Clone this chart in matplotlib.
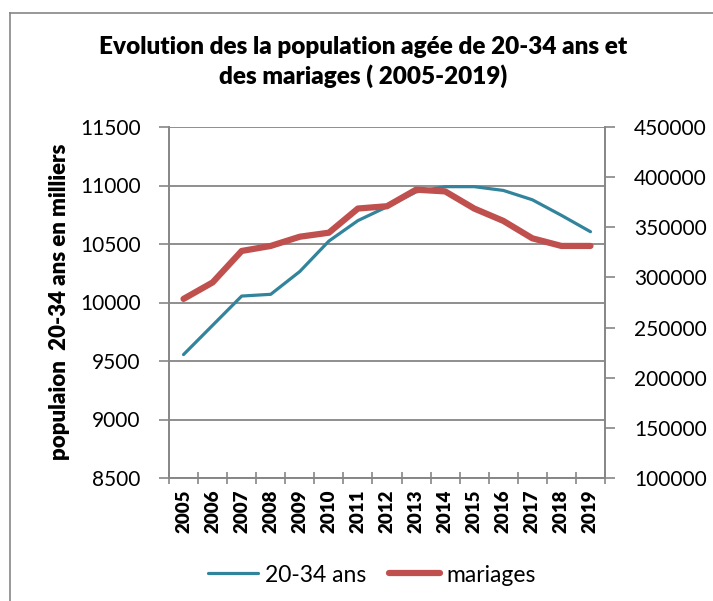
import matplotlib.pyplot as plt
from matplotlib.lines import Line2D

# Données
annees = ["2005", "2006", "2007", "2008", "2009", "2010", "2011", "2012",
          "2013", "2014", "2015", "2016", "2017", "2018", "2019"]
pop_20_34 = [9555, 9805, 10055, 10070, 10265, 10525, 10700, 10818,
             10945, 10990, 10990, 10958, 10878, 10745, 10605]
mariages = [278600, 295000, 326400, 331400, 340600, 344600, 368700, 371000,
            387500, 385800, 368700, 356400, 339000, 331400, 331400]

BLEU = "#31849B"
ROUGE = "#C0504D"
GRIS = "#868686"


def main():
    plt.rcParams["font.family"] = ["Lato", "DejaVu Sans"]
    fig = plt.figure(figsize=(7.13, 6.01), dpi=100)

    # cadre du graphique (coupé à droite et en bas)
    fig.add_artist(Line2D([10 / 713, 10 / 713], [-0.1, 1 - 13 / 601],
                          color=GRIS, lw=1.2))
    fig.add_artist(Line2D([10 / 713, 1.1], [1 - 13 / 601, 1 - 13 / 601],
                          color=GRIS, lw=1.2))

    ax = fig.add_axes([169 / 713, 1 - 478 / 601, 436 / 713, 351 / 601])
    ax2 = ax.twinx()

    x = list(range(len(annees)))
    l1, = ax.plot(x, pop_20_34, color=BLEU, lw=2.3, solid_capstyle="round",
                  label="20-34 ans")
    l2, = ax2.plot(x, mariages, color=ROUGE, lw=4.5, solid_capstyle="round",
                   label="mariages")

    ax.set_xlim(-0.5, len(annees) - 0.5)
    ax.set_ylim(8500, 11500)
    ax.set_yticks(range(8500, 11501, 500))
    ax2.set_ylim(100000, 450000)
    ax2.set_yticks(range(100000, 450001, 50000))

    ax.grid(axis="y", color=GRIS, lw=1.3)
    ax.set_axisbelow(True)

    # ticks x entre les catégories
    ax.set_xticks([i + 0.5 for i in range(-1, len(annees))])
    ax.set_xticklabels([])
    ax.set_xticks(x, minor=True)
    ax.set_xticklabels(annees, minor=True, rotation=90, fontsize=13.5,
                       fontweight="heavy")
    ax.tick_params(axis="x", which="minor", length=0, pad=8)
    ax.tick_params(axis="x", which="major", direction="inout", length=8,
                   color=GRIS, width=1.2)
    ax.tick_params(axis="y", length=7.5, color=GRIS, width=1.2, labelsize=15,
                   pad=13)
    ax2.tick_params(axis="y", length=7, color=GRIS, width=1.2, labelsize=15,
                    pad=14)

    for a in (ax, ax2):
        for s in a.spines.values():
            s.set_color(GRIS)
            s.set_linewidth(1.2)
        a.spines["top"].set_visible(False)

    fig.text(60 / 713, 1 - 302 / 601, "populaion  20-34 ans en milliers",
             rotation=90, ha="center", va="center", fontsize=16,
             fontweight="heavy")

    fig.text(363 / 713, 1 - 62 / 601,
             "Evolution des la population agée de 20-34 ans et\n"
             "des mariages ( 2005-2019)",
             ha="center", va="center", fontsize=17.5, fontweight="heavy",
             linespacing=1.3)

    fig.legend(handles=[l1, l2], loc="center", ncol=2, frameon=False,
               bbox_to_anchor=(372 / 713, 1 - 575 / 601), fontsize=16.5,
               handlelength=2.2, columnspacing=1.0, handletextpad=0.3)

    fig.savefig("out.png", dpi=100)


if __name__ == "__main__":
    main()
